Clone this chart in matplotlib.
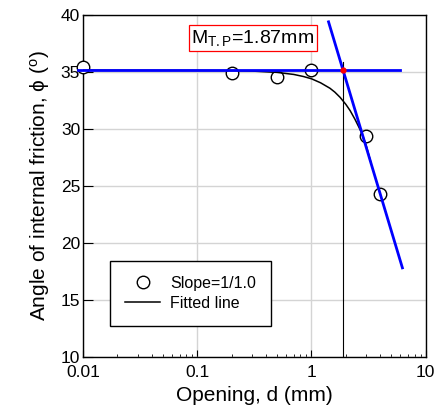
import matplotlib
matplotlib.use('Agg')
import matplotlib.pyplot as plt

plt.rcParams['font.family'] = ['Liberation Sans', 'DejaVu Sans']
plt.rcParams['mathtext.fontset'] = 'custom'
plt.rcParams['mathtext.rm'] = 'Liberation Sans'
plt.rcParams['mathtext.it'] = 'Liberation Sans:italic'

# measured points (slope 1/1.0)
opening = [0.01, 0.2, 0.5, 1.0, 3.0, 4.0]
phi = [35.4, 34.9, 34.6, 35.2, 29.4, 24.3]

# fitted curve
fit_d = [0.01, 0.05, 0.1, 0.2, 0.3, 0.5, 0.7, 0.85, 1.0, 1.2, 1.45, 1.6, 1.78,
         2.0, 2.18, 2.4, 2.6, 2.76, 3.0, 3.3]
fit_phi = [35.15, 35.14, 35.13, 35.12, 35.08, 34.96, 34.78, 34.6, 34.4, 34.05, 33.57, 33.23, 32.77,
           32.15, 31.6, 30.85, 30.15, 29.6, 28.6, 27.1]

# tangent lines
flat_d = [0.009, 6.0]
flat_phi = [35.15, 35.15]
steep_d = [1.41, 6.25]
steep_phi = [39.4, 17.8]

# turning point
tp_d = 1.87
tp_phi = 35.15
tp_top = 35.9

fig = plt.figure(figsize=(4.38, 4.19), dpi=100)
ax = fig.add_axes([0.1895, 0.1487, 0.7825, 0.8155])

ax.set_xscale('log')
ax.set_xlim(0.01, 10)
ax.set_ylim(10, 40)
ax.set_yticks([10, 15, 20, 25, 30, 35, 40])

ax.grid(True, which='major', color='#d4d4d4', linewidth=1.0)
ax.set_axisbelow(True)

ax.plot(opening, phi, 'o', ms=9, mfc='white', mec='black', mew=1.0,
        clip_on=False, zorder=3, label='Slope=1/1.0')
ax.plot(fit_d, fit_phi, color='black', lw=1.1, zorder=4, label='Fitted line')
ax.plot([tp_d, tp_d], [10, tp_top], color='black', lw=0.8, zorder=4)
ax.plot(flat_d, flat_phi, color='#0000ff', lw=2.0, clip_on=False, zorder=5)
ax.plot(steep_d, steep_phi, color='#0000ff', lw=2.0, zorder=5)
ax.plot([tp_d], [tp_phi], 'o', ms=3.5, color='red', zorder=6)

ax.text(0.496, 0.933, r'M$_{\mathrm{T.P}}$=1.87mm', transform=ax.transAxes,
        ha='center', va='center', fontsize=14,
        bbox=dict(boxstyle='square,pad=0.15', fc='white', ec='red', lw=0.9))

ax.set_xticks([0.01, 0.1, 1, 10])
ax.set_xticklabels(['0.01', '0.1', '1', '10'])
ax.tick_params(axis='both', which='both', direction='in', labelsize=12.5,
               top=False, right=False, colors='black')
ax.tick_params(axis='y', which='major', length=7, pad=2)
ax.tick_params(axis='x', which='major', length=5, pad=6)
ax.tick_params(axis='x', which='minor', length=2.5)

for s in ax.spines.values():
    s.set_linewidth(1.0)
    s.set_color('black')

ax.set_xlabel('Opening, d (mm)', fontsize=15, labelpad=4)
ax.set_ylabel(r'Angle of internal friction, ϕ ($^{\mathrm{o}}$)', fontsize=15, labelpad=6)

leg = ax.legend(loc='lower left', bbox_to_anchor=(0.079, 0.0907), borderaxespad=0,
                fontsize=11.5, frameon=True, fancybox=False, edgecolor='black',
                framealpha=1, borderpad=0.95, handlelength=2.2, handletextpad=0.6,
                labelspacing=0.3)
leg.get_frame().set_linewidth(1.0)

fig.savefig('out.png', dpi=100)
